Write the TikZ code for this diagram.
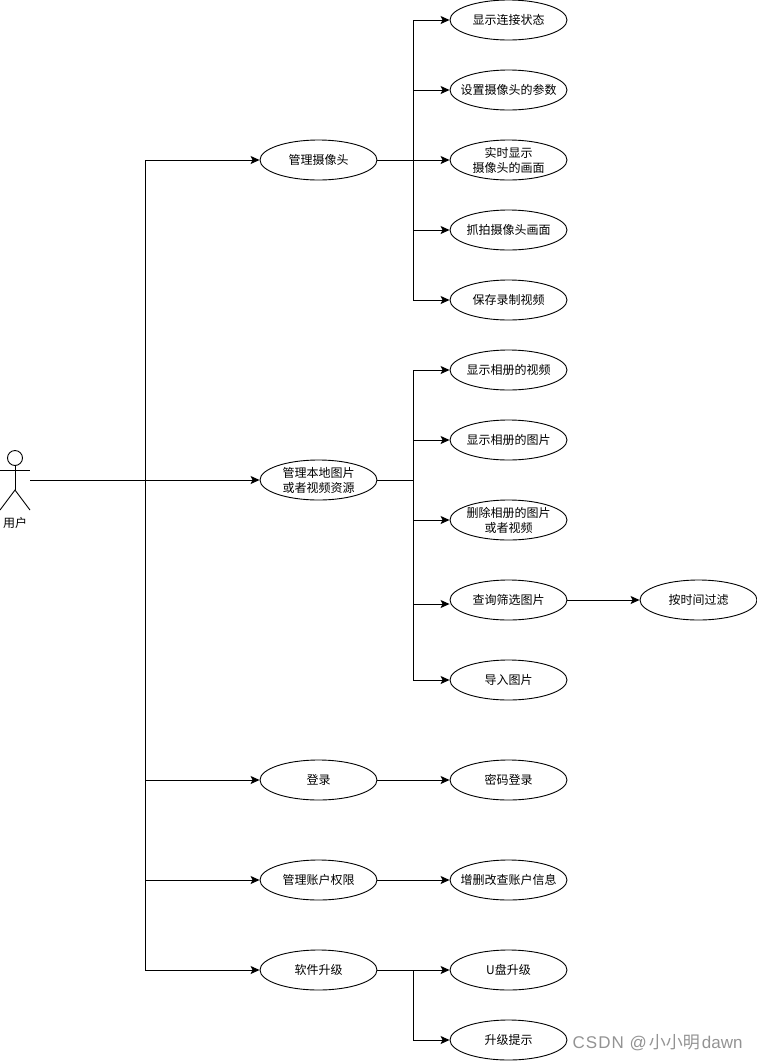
\documentclass[tikz,border=0pt]{standalone}
\usepackage{fontspec}
\setmainfont{Noto Sans CJK SC}
\newfontfamily\markfont{Liberation Sans}
\usetikzlibrary{shapes.geometric,arrows.meta}

\begin{document}
\begin{tikzpicture}[x=1pt,y=-1pt,
every path/.style={line width=0.9pt},
UseCase/.style={ellipse,draw,minimum width=117pt,minimum height=40pt,inner sep=-12pt,align=center,font=\fontsize{12}{15}\selectfont},
Link/.style={-{Stealth[length=9pt,width=8pt,inset=2pt]}}
]
\useasboundingbox (0,0) rectangle (757,1061);

%actor
\node[minimum width=30pt,minimum height=60pt,inner sep=0pt] (User) at (15,480) {};
\draw (15,458) circle (7.5pt);
\draw (15,465.5) -- (15,490);
\draw (0,470) -- (30,470);
\draw (0,510) -- (15,490) -- (30,510);
\node[font=\fontsize{12}{15}\selectfont,inner sep=0pt] (UserLabel) at (15,523) {用户};

%first level
\node[UseCase] (Camera) at (318.5,160) {管理摄像头};
\node[UseCase] (Album) at (318.5,480) {管理本地图片\\或者视频资源};
\node[UseCase] (Login) at (318.5,780) {登录};
\node[UseCase] (Rights) at (318.5,880) {管理账户权限};
\node[UseCase] (Upgrade) at (318.5,970) {软件升级};

%camera
\node[UseCase] (CamState) at (508.5,20) {显示连接状态};
\node[UseCase] (CamParam) at (508.5,90) {设置摄像头的参数};
\node[UseCase] (CamLive) at (508.5,160) {实时显示\\摄像头的画面};
\node[UseCase] (CamShot) at (508.5,230) {抓拍摄像头画面};
\node[UseCase] (CamRecord) at (508.5,300) {保存录制视频};

%album
\node[UseCase] (AlbumVideo) at (508.5,370) {显示相册的视频};
\node[UseCase] (AlbumImage) at (508.5,440) {显示相册的图片};
\node[UseCase] (AlbumDelete) at (508.5,520) {删除相册的图片\\或者视频};
\node[UseCase] (AlbumQuery) at (508.5,600) {查询筛选图片};
\node[UseCase] (AlbumImport) at (508.5,680) {导入图片};
\node[UseCase] (TimeFilter) at (698.5,600) {按时间过滤};

%the rest
\node[UseCase] (PwdLogin) at (508.5,780) {密码登录};
\node[UseCase] (AccountInfo) at (508.5,880) {增删改查账户信息};
\node[UseCase] (UDisk) at (508.5,970) {U盘升级};
\node[UseCase] (UpgradeTip) at (508.5,1040) {升级提示};

%trunk and branch points
\coordinate (UserBus) at (145,480);
\coordinate (CamBus) at (413,160);
\coordinate (AlbumBus) at (413,480);
\coordinate (UpgradeBus) at (413,970);

%user links
\draw[Link] (User.east) -- (Album.west);
\draw[Link] (UserBus) |- (Camera.west);
\draw[Link] (UserBus) |- (Login.west);
\draw[Link] (UserBus) |- (Rights.west);
\draw[Link] (UserBus) |- (Upgrade.west);

%camera links
\draw[Link] (Camera.east) -- (CamLive.west);
\draw[Link] (CamBus) |- (CamState.west);
\draw[Link] (CamBus) |- (CamParam.west);
\draw[Link] (CamBus) |- (CamShot.west);
\draw[Link] (CamBus) |- (CamRecord.west);

%album links
\draw (Album.east) -- (AlbumBus);
\draw[Link] (AlbumBus) |- (AlbumVideo.west);
\draw[Link] (AlbumBus) |- (AlbumImage.west);
\draw[Link] (AlbumBus) |- (AlbumDelete.west);
\draw[Link] (AlbumBus) |- ([yshift=-4pt]AlbumQuery.west);
\draw[Link] (AlbumBus) |- (AlbumImport.west);
\draw[Link] (AlbumQuery.east) -- (TimeFilter.west);

%single links
\draw[Link] (Login.east) -- (PwdLogin.west);
\draw[Link] (Rights.east) -- (AccountInfo.west);
\draw[Link] (Upgrade.east) -- (UDisk.west);
\draw[Link] (UpgradeBus) |- (UpgradeTip.west);

%watermark
\node[font=\fontsize{17}{20}\selectfont,text=gray!85,anchor=east,inner sep=0pt] (Mark) at (743,1043) {{\markfont\addfontfeature{LetterSpace=6}CSDN @}\hspace{2pt}小小明\hspace{2pt}{\markfont dawn}};
\end{tikzpicture}
\end{document}
